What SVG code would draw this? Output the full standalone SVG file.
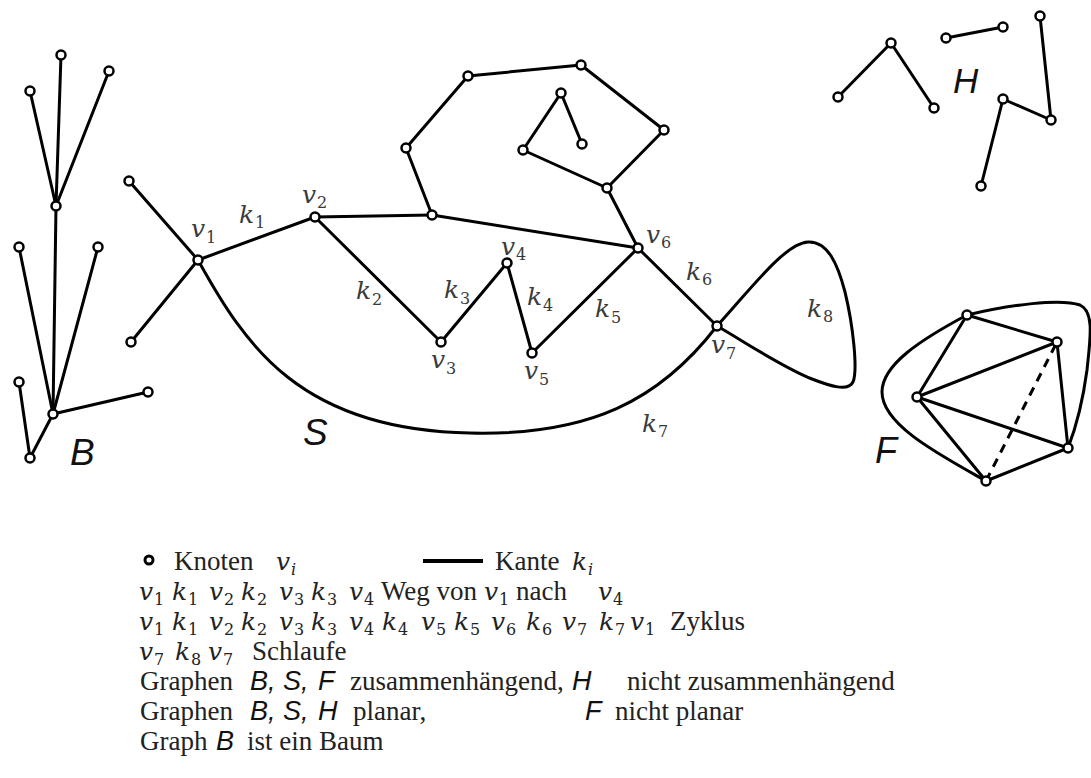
<svg xmlns="http://www.w3.org/2000/svg" width="1091" height="778" viewBox="0 0 1091 778">
<style>
.e{stroke:#000;stroke-width:3;fill:none;stroke-linecap:round;stroke-linejoin:round}
.d{stroke-dasharray:9 7;stroke-linecap:butt}
.n{fill:#fff;stroke:#000;stroke-width:2.5}
.m{font-family:"DejaVu Serif",serif;font-style:italic;font-size:25px;fill:#3a3a3a}
.sb{font-family:"DejaVu Serif",serif;font-style:normal;font-size:16px;fill:#3a3a3a}
.si{font-family:"DejaVu Serif",serif;font-style:italic;font-size:16px;fill:#3a3a3a}
.lm{fill:#222}
.t{font-family:"Liberation Serif",serif;font-size:27px;fill:#222}
.s{font-family:"Liberation Sans",sans-serif;font-style:italic;font-size:27px;fill:#111}
.L{font-family:"Liberation Sans",sans-serif;font-style:italic;font-size:37px;fill:#111}
</style>
<rect width="1091" height="778" fill="#fff"/>
<g id="connectors">
<line class="e" x1="61" y1="55" x2="56" y2="206"/>
<line class="e" x1="30" y1="91" x2="56" y2="206"/>
<line class="e" x1="109" y1="71" x2="56" y2="206"/>
<line class="e" x1="56" y1="206" x2="53" y2="414"/>
<line class="e" x1="19" y1="247" x2="53" y2="414"/>
<line class="e" x1="98" y1="247" x2="53" y2="414"/>
<line class="e" x1="148" y1="392" x2="53" y2="414"/>
<line class="e" x1="19" y1="382" x2="30" y2="458"/>
<line class="e" x1="30" y1="458" x2="53" y2="414"/>
<line class="e" x1="129" y1="181" x2="198" y2="260"/>
<line class="e" x1="131" y1="342" x2="198" y2="260"/>
<line class="e" x1="198" y1="260" x2="315" y2="217"/>
<line class="e" x1="315" y1="217" x2="432" y2="215"/>
<line class="e" x1="432" y1="215" x2="638" y2="248"/>
<line class="e" x1="432" y1="215" x2="406" y2="148"/>
<line class="e" x1="406" y1="148" x2="468" y2="76"/>
<line class="e" x1="468" y1="76" x2="581" y2="65"/>
<line class="e" x1="581" y1="65" x2="664" y2="130"/>
<line class="e" x1="664" y1="130" x2="607" y2="188"/>
<line class="e" x1="607" y1="188" x2="638" y2="248"/>
<line class="e" x1="607" y1="188" x2="523" y2="150"/>
<line class="e" x1="523" y1="150" x2="561" y2="93"/>
<line class="e" x1="561" y1="93" x2="582" y2="144"/>
<line class="e" x1="315" y1="217" x2="441" y2="342"/>
<line class="e" x1="441" y1="342" x2="507" y2="263"/>
<line class="e" x1="507" y1="263" x2="532" y2="353"/>
<line class="e" x1="532" y1="353" x2="638" y2="248"/>
<line class="e" x1="638" y1="248" x2="717" y2="326"/>
<path class="e" d="M198,260 C245,345 300,430 470,433 C590,436 660,400 717,326"/>
<path class="e" d="M717,326 C750,290 785,243 808,242 C828,241 838,265 845,292 C853,325 858,370 853,382 C848,392 830,386 812,379 C780,366 745,342 717,326"/>
<line class="e" x1="838" y1="97" x2="891" y2="43"/>
<line class="e" x1="891" y1="43" x2="934" y2="108"/>
<line class="e" x1="946" y1="38" x2="1003" y2="27"/>
<line class="e" x1="1040" y1="16" x2="1051" y2="120"/>
<line class="e" x1="1051" y1="120" x2="1003" y2="99"/>
<line class="e" x1="1003" y1="99" x2="981" y2="186"/>
<line class="e" x1="967" y1="315" x2="1057" y2="342"/>
<line class="e" x1="967" y1="315" x2="917" y2="397"/>
<line class="e" x1="917" y1="397" x2="1057" y2="342"/>
<line class="e" x1="917" y1="397" x2="1068" y2="448"/>
<line class="e" x1="917" y1="397" x2="986" y2="481"/>
<line class="e" x1="986" y1="481" x2="1068" y2="448"/>
<line class="e" x1="1057" y1="342" x2="1068" y2="448"/>
<line class="e d" x1="986" y1="481" x2="1057" y2="342"/>
<path class="e" d="M967,315 C920,340 882,365 882,392 C882,425 940,455 986,481"/>
<path class="e" d="M967,315 C1010,305 1060,298 1080,305 C1095,312 1090,340 1087,370 C1083,400 1075,430 1068,448"/>
</g>
<g id="B-graph">
<g id="b1"><circle class="n" cx="61" cy="55" r="4.5"/></g>
<g id="b2"><circle class="n" cx="30" cy="91" r="4.5"/></g>
<g id="b3"><circle class="n" cx="109" cy="71" r="4.5"/></g>
<g id="b4"><circle class="n" cx="56" cy="206" r="4.5"/></g>
<g id="b5"><circle class="n" cx="19" cy="247" r="4.5"/></g>
<g id="b6"><circle class="n" cx="98" cy="247" r="4.5"/></g>
<g id="b7"><circle class="n" cx="53" cy="414" r="4.5"/></g>
<g id="b8"><circle class="n" cx="19" cy="382" r="4.5"/></g>
<g id="b9"><circle class="n" cx="148" cy="392" r="4.5"/></g>
<g id="b10"><circle class="n" cx="30" cy="458" r="4.5"/></g>
<text class="L" x="70" y="465">B</text>
</g>
<g id="S-graph">
<g id="s-a"><circle class="n" cx="129" cy="181" r="4.5"/></g>
<g id="s-b"><circle class="n" cx="131" cy="342" r="4.5"/></g>
<g id="v1"><circle class="n" cx="198" cy="260" r="4.5"/><text class="m" x="191" y="237">v</text><text class="sb" x="206" y="243">1</text></g>
<g id="v2"><circle class="n" cx="315" cy="217" r="4.5"/><text class="m" x="302" y="203">v</text><text class="sb" x="317" y="208">2</text></g>
<g id="s-e"><circle class="n" cx="432" cy="215" r="4.5"/></g>
<g id="s-d"><circle class="n" cx="406" cy="148" r="4.5"/></g>
<g id="s-f"><circle class="n" cx="468" cy="76" r="4.5"/></g>
<g id="s-g"><circle class="n" cx="581" cy="65" r="4.5"/></g>
<g id="s-h"><circle class="n" cx="664" cy="130" r="4.5"/></g>
<g id="s-i"><circle class="n" cx="607" cy="188" r="4.5"/></g>
<g id="s-j"><circle class="n" cx="523" cy="150" r="4.5"/></g>
<g id="s-k"><circle class="n" cx="561" cy="93" r="4.5"/></g>
<g id="s-l"><circle class="n" cx="582" cy="144" r="4.5"/></g>
<g id="v3"><circle class="n" cx="441" cy="342" r="4.5"/><text class="m" x="431" y="368">v</text><text class="sb" x="446" y="374">3</text></g>
<g id="v4"><circle class="n" cx="507" cy="263" r="4.5"/><text class="m" x="501" y="255">v</text><text class="sb" x="516" y="260">4</text></g>
<g id="v5"><circle class="n" cx="532" cy="353" r="4.5"/><text class="m" x="524" y="379">v</text><text class="sb" x="539" y="385">5</text></g>
<g id="v6"><circle class="n" cx="638" cy="248" r="4.5"/><text class="m" x="646" y="243">v</text><text class="sb" x="661" y="248">6</text></g>
<g id="v7"><circle class="n" cx="717" cy="326" r="4.5"/><text class="m" x="711" y="353">v</text><text class="sb" x="726" y="359">7</text></g>
<g id="edge-labels">
<text class="m" x="239" y="223">k</text><text class="sb" x="255" y="228">1</text>
<text class="m" x="356" y="299">k</text><text class="sb" x="372" y="305">2</text>
<text class="m" x="444" y="298">k</text><text class="sb" x="460" y="304">3</text>
<text class="m" x="527" y="305">k</text><text class="sb" x="543" y="311">4</text>
<text class="m" x="595" y="317">k</text><text class="sb" x="611" y="323">5</text>
<text class="m" x="686" y="280">k</text><text class="sb" x="702" y="285">6</text>
<text class="m" x="642" y="432">k</text><text class="sb" x="658" y="437">7</text>
<text class="m" x="807" y="317">k</text><text class="sb" x="823" y="322">8</text>
</g>
<text class="L" x="303" y="445">S</text>
</g>
<g id="H-graph">
<g id="h1"><circle class="n" cx="838" cy="97" r="4.5"/></g>
<g id="h2"><circle class="n" cx="891" cy="43" r="4.5"/></g>
<g id="h3"><circle class="n" cx="934" cy="108" r="4.5"/></g>
<g id="h4"><circle class="n" cx="946" cy="38" r="4.5"/></g>
<g id="h5"><circle class="n" cx="1003" cy="27" r="4.5"/></g>
<g id="h6"><circle class="n" cx="1040" cy="16" r="4.5"/></g>
<g id="h7"><circle class="n" cx="1051" cy="120" r="4.5"/></g>
<g id="h8"><circle class="n" cx="1003" cy="99" r="4.5"/></g>
<g id="h9"><circle class="n" cx="981" cy="186" r="4.5"/></g>
<text class="L" x="953" y="93" style="font-size:35px">H</text>
</g>
<g id="F-graph">
<g id="f1"><circle class="n" cx="967" cy="315" r="4.5"/></g>
<g id="f2"><circle class="n" cx="1057" cy="342" r="4.5"/></g>
<g id="f3"><circle class="n" cx="917" cy="397" r="4.5"/></g>
<g id="f4"><circle class="n" cx="1068" cy="448" r="4.5"/></g>
<g id="f5"><circle class="n" cx="986" cy="481" r="4.5"/></g>
<text class="L" x="875" y="463" style="font-size:36px">F</text>
</g>
<g id="legend">
<circle cx="149" cy="560" r="4" fill="#fff" stroke="#000" stroke-width="3"/>
<text class="t" x="174" y="570">Knoten</text>
<text class="m lm" x="276" y="570">v</text><text class="si lm" x="291" y="575">i</text>
<line x1="423" y1="561" x2="483" y2="561" stroke="#000" stroke-width="4"/>
<text class="t" x="495" y="570">Kante</text>
<text class="m lm" x="572" y="570">k</text><text class="si lm" x="588" y="575">i</text>

<text y="600"><tspan class="m lm" x="139">v</tspan><tspan class="sb lm" x="154" y="605">1</tspan><tspan class="m lm" x="172" y="600">k</tspan><tspan class="sb lm" x="188" y="605">1</tspan><tspan class="m lm" x="209" y="600">v</tspan><tspan class="sb lm" x="224" y="605">2</tspan><tspan class="m lm" x="241" y="600">k</tspan><tspan class="sb lm" x="257" y="605">2</tspan><tspan class="m lm" x="279" y="600">v</tspan><tspan class="sb lm" x="294" y="605">3</tspan><tspan class="m lm" x="311" y="600">k</tspan><tspan class="sb lm" x="327" y="605">3</tspan><tspan class="m lm" x="349" y="600">v</tspan><tspan class="sb lm" x="364" y="605">4</tspan><tspan class="t" x="381" y="600">Weg von</tspan><tspan class="m lm" x="484" y="600">v</tspan><tspan class="sb lm" x="499" y="605">1</tspan><tspan class="t" x="516" y="600">nach</tspan><tspan class="m lm" x="598" y="600">v</tspan><tspan class="sb lm" x="613" y="605">4</tspan></text>

<text y="630"><tspan class="m lm" x="139">v</tspan><tspan class="sb lm" x="154" y="635">1</tspan><tspan class="m lm" x="172" y="630">k</tspan><tspan class="sb lm" x="188" y="635">1</tspan><tspan class="m lm" x="209" y="630">v</tspan><tspan class="sb lm" x="224" y="635">2</tspan><tspan class="m lm" x="241" y="630">k</tspan><tspan class="sb lm" x="257" y="635">2</tspan><tspan class="m lm" x="279" y="630">v</tspan><tspan class="sb lm" x="294" y="635">3</tspan><tspan class="m lm" x="311" y="630">k</tspan><tspan class="sb lm" x="327" y="635">3</tspan><tspan class="m lm" x="349" y="630">v</tspan><tspan class="sb lm" x="364" y="635">4</tspan><tspan class="m lm" x="382" y="630">k</tspan><tspan class="sb lm" x="398" y="635">4</tspan><tspan class="m lm" x="421" y="630">v</tspan><tspan class="sb lm" x="436" y="635">5</tspan><tspan class="m lm" x="454" y="630">k</tspan><tspan class="sb lm" x="470" y="635">5</tspan><tspan class="m lm" x="491" y="630">v</tspan><tspan class="sb lm" x="506" y="635">6</tspan><tspan class="m lm" x="526" y="630">k</tspan><tspan class="sb lm" x="542" y="635">6</tspan><tspan class="m lm" x="562" y="630">v</tspan><tspan class="sb lm" x="577" y="635">7</tspan><tspan class="m lm" x="599" y="630">k</tspan><tspan class="sb lm" x="615" y="635">7</tspan><tspan class="m lm" x="630" y="630">v</tspan><tspan class="sb lm" x="645" y="635">1</tspan><tspan class="t" x="670" y="630">Zyklus</tspan></text>

<text y="660"><tspan class="m lm" x="139">v</tspan><tspan class="sb lm" x="154" y="665">7</tspan><tspan class="m lm" x="175" y="660">k</tspan><tspan class="sb lm" x="191" y="665">8</tspan><tspan class="m lm" x="208" y="660">v</tspan><tspan class="sb lm" x="223" y="665">7</tspan><tspan class="t" x="252" y="660">Schlaufe</tspan></text>

<text y="690"><tspan class="t" x="140">Graphen</tspan><tspan class="s" x="250">B,</tspan><tspan class="s" x="283">S,</tspan><tspan class="s" x="318">F</tspan><tspan class="t" x="350">zusammenhängend,</tspan><tspan class="s" x="572">H</tspan><tspan class="t" x="627">nicht zusammenhängend</tspan></text>

<text y="720"><tspan class="t" x="140">Graphen</tspan><tspan class="s" x="250">B,</tspan><tspan class="s" x="283">S,</tspan><tspan class="s" x="318">H</tspan><tspan class="t" x="353">planar,</tspan><tspan class="s" x="585">F</tspan><tspan class="t" x="615">nicht planar</tspan></text>

<text y="750"><tspan class="t" x="140">Graph</tspan><tspan class="s" x="216">B</tspan><tspan class="t" x="247">ist ein Baum</tspan></text>
</g>
</svg>
